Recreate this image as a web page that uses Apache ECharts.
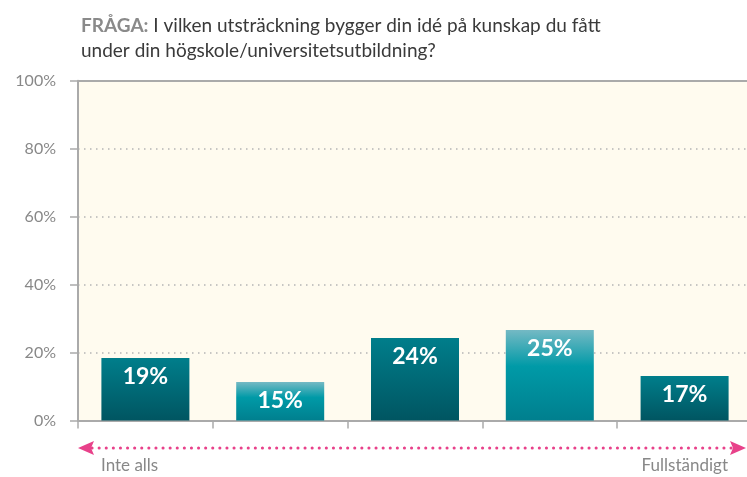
<!DOCTYPE html>
<html>
<head>
<meta charset="utf-8">
<script src="https://cdn.jsdelivr.net/npm/echarts@6/dist/echarts.min.js"></script>
<style>html,body{margin:0;padding:0;background:#fff;overflow:hidden;width:747px;height:477px;}#c{width:753px;height:477px;}</style>
</head>
<body>
<div id="c"></div>
<script>
// Data
var categories = ['1', '2', '3', '4', '5'];
var barValues = [18.4, 11.3, 24.3, 26.6, 13.1];
var barLabels = ['19%', '15%', '24%', '25%', '17%'];
var yTicks = [0, 20, 40, 60, 80, 100];
var titlePrefix = 'FRÅGA:';
var titleText = ' I vilken utsträckning bygger din idé på kunskap du fått\nunder din högskole/universitetsutbildning?';
var leftEndLabel = 'Inte alls';
var rightEndLabel = 'Fullständigt';

var FONT = 'Lato, "Open Sans", sans-serif';
var darkGrad = new echarts.graphic.LinearGradient(0, 0, 0, 1, [
  {offset: 0, color: '#007e8b'}, {offset: 1, color: '#005561'}
]);
var lightGrad = new echarts.graphic.LinearGradient(0, 0, 0, 1, [
  {offset: 0, color: '#74b9c4'}, {offset: 0.4, color: '#009aa7'}, {offset: 1, color: '#007f8e'}
]);

var chart = echarts.init(document.getElementById('c'), null, {renderer: 'canvas'});
chart.setOption({
  backgroundColor: '#ffffff',
  animation: false,
  title: {
    text: '{b|' + titlePrefix + '}' + titleText.split('\n').map(function(s){ return '{r|' + s + '}'; }).join('\n'),
    left: 76, top: 8,
    textStyle: {
      fontWeight: 'normal',
      rich: {
        b: {fontFamily: FONT, fontSize: 19, fontWeight: 'bold', color: '#8a8a8a', lineHeight: 25},
        r: {fontFamily: FONT, fontSize: 19, fontWeight: 'normal', color: '#3a3a3a', lineHeight: 25}
      }
    }
  },
  grid: {
    left: 78, right: 1, top: 80.7, bottom: 56.5,
    show: true, backgroundColor: '#fffbef', borderWidth: 0
  },
  xAxis: {
    type: 'category',
    data: categories,
    axisLine: {lineStyle: {color: '#aaaaaa', width: 2}},
    axisTick: {show: true, length: 8, lineStyle: {color: '#aaaaaa', width: 1.5}},
    axisLabel: {show: false}
  },
  yAxis: {
    type: 'value', min: yTicks[0], max: yTicks[yTicks.length - 1], interval: 20,
    axisLine: {show: true, lineStyle: {color: '#aaaaaa', width: 2}},
    axisTick: {show: true, length: 8, lineStyle: {color: '#aaaaaa', width: 1.5}},
    axisLabel: {formatter: '{value}%', color: '#888888', fontSize: 16, fontFamily: FONT, margin: 22},
    splitLine: {show: true, lineStyle: {color: '#b5b5b5', type: [1.5, 4.5], width: 1.5}}
  },
  series: [{
    type: 'bar',
    barWidth: 88,
    data: barValues.map(function(v, i){
      return {value: v, itemStyle: {color: i % 2 === 0 ? darkGrad : lightGrad}};
    }),
    label: {
      show: true, position: 'insideTop', distance: 7,
      formatter: function(p){ return barLabels[p.dataIndex]; },
      color: '#ffffff', fontSize: 23, fontWeight: 'bold', fontFamily: FONT
    },
    markLine: {
      silent: true, symbol: 'none', label: {show: false},
      lineStyle: {color: '#aaaaaa', type: 'solid', width: 2},
      data: [{yAxis: 100}]
    }
  }],
  graphic: [
    {type: 'line', shape: {x1: 92, y1: 448, x2: 732, y2: 448},
     style: {stroke: '#e8418a', lineWidth: 3, lineDash: [0.1, 7], lineCap: 'round'}},
    {type: 'polygon', shape: {points: [[78, 448], [94, 441], [91, 448], [94, 455]]},
     style: {fill: '#e8418a'}},
    {type: 'polygon', shape: {points: [[746, 448], [730, 441], [733, 448], [730, 455]]},
     style: {fill: '#e8418a'}},
    {type: 'text', left: 101, top: 457,
     style: {text: leftEndLabel, fill: '#888888', font: '17px ' + FONT}},
    {type: 'text', right: 25, top: 457,
     style: {text: rightEndLabel, fill: '#888888', font: '17px ' + FONT}}
  ]
});
</script>
</body>
</html>
